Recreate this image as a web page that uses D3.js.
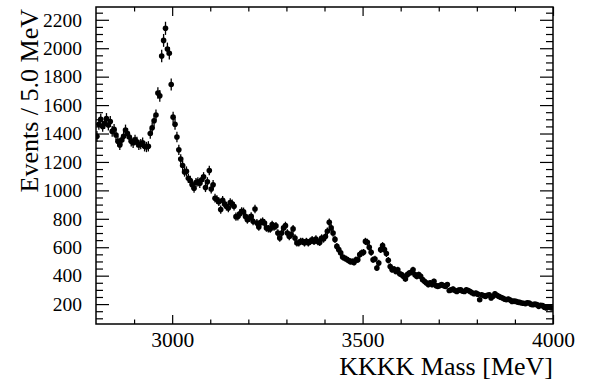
<!DOCTYPE html>
<html lang="en">
<head>
    <meta charset="UTF-8">
    <title>KKKK Mass</title>
    <script src="https://d3js.org/d3.v7.min.js"></script>
    <style>
        body { margin: 0; background: #fff; }
        text { font-family: "Liberation Serif", "Times New Roman", serif; fill: #000; }
    </style>
</head>
<body>
<div id="chart"></div>
<script>

  // Histogram binning (MeV)
  const massStart = 2800, binWidth = 5;

  // Events per 5 MeV bin, 2800 -> 4000 MeV (240 bins)
  const counts = [
    1380, 1465, 1500, 1450, 1470, 1505, 1460, 1485, 1415, 1430,
    1390, 1345, 1320, 1355, 1380, 1425, 1400, 1375, 1345, 1335,
    1355, 1340, 1320, 1325, 1335, 1310, 1305, 1310, 1400, 1440,
    1490, 1530, 1685, 1665, 1945, 2055, 2140, 1995, 1965, 1745,
    1515, 1465, 1375, 1285, 1220, 1175, 1130, 1135, 1085, 1070,
    1040, 1015, 1055, 1060, 1050, 1075, 1095, 1020, 1060, 1140,
    1010, 1040, 945, 935, 920, 865, 930, 905, 888, 876,
    915, 905, 888, 815, 817, 836, 852, 850, 817, 794,
    806, 817, 782, 869, 771, 743, 775, 782, 771, 736,
    730, 729, 759, 743, 750, 700, 665, 700, 736, 752,
    700, 676, 690, 729, 665, 630, 630, 641, 641, 630,
    641, 630, 641, 653, 641, 658, 640, 634, 665, 658,
    676, 712, 775, 736, 700, 655, 606, 583, 560, 531,
    524, 517, 508, 500, 500, 493, 512, 512, 548, 560,
    564, 641, 635, 600, 564, 512, 517, 454, 489, 583,
    611, 583, 555, 508, 465, 442, 447, 430, 442, 414,
    407, 395, 377, 407, 419, 423, 442, 407, 395, 407,
    395, 372, 360, 349, 337, 349, 337, 360, 330, 325,
    330, 337, 330, 325, 337, 296, 300, 306, 295, 289,
    298, 301, 290, 289, 301, 295, 289, 280, 273, 278,
    270, 231, 266, 260, 254, 262, 266, 243, 255, 273,
    262, 254, 248, 243, 235, 231, 236, 228, 219, 222,
    219, 214, 212, 208, 206, 203, 210, 208, 198, 196,
    200, 196, 184, 192, 189, 178, 173, 180, 176, 173
  ];

  // Axis ticks
  const xMajor = [3000, 3500, 4000];
  const xMinor = [2900, 3100, 3200, 3300, 3400, 3600, 3700, 3800, 3900];
  const yMajor = [200, 400, 600, 800, 1000, 1200, 1400, 1600, 1800, 2000, 2200];
  const yMinor = [100, 150, 250, 300, 350, 450, 500, 550, 650, 700, 750, 850, 900, 950,
                  1050, 1100, 1150, 1250, 1300, 1350, 1450, 1500, 1550, 1650, 1700, 1750,
                  1850, 1900, 1950, 2050, 2100, 2150, 2250];

  const data = counts.map((c, i) => ({ m: massStart + binWidth * (i + 0.5), n: c }));

  const serif = '"Liberation Serif", "Times New Roman", serif';

  const margin = { top: 7, right: 38, bottom: 62, left: 96 },
        width = 591 - margin.left - margin.right,
        height = 386 - margin.top - margin.bottom;

  const svg = d3.select("#chart")
    .append("svg")
      .attr("width", 591)
      .attr("height", 386)
    .append("g")
      .attr("transform", `translate(${margin.left},${margin.top})`);

  const x = d3.scaleLinear().domain([2800, 4000]).range([0, width]);
  const y = d3.scaleLinear().domain([60, 2290]).range([height, 0]);

  // ticks (pointing inward, on all four sides)
  const addAxis = (axis, transform) => {
    const g = svg.append("g").attr("transform", transform).call(axis);
    g.select(".domain").remove();
    g.selectAll(".tick line").attr("stroke", "#000").attr("stroke-width", 1.2);
    g.selectAll(".tick text").style("font-family", serif).attr("fill", "#000");
    return g;
  };

  addAxis(d3.axisBottom(x).tickValues(xMajor).tickFormat(d3.format("d")).tickSize(-9).tickPadding(8),
          `translate(0,${height})`)
    .selectAll("text").style("font-size", "21.5px");
  addAxis(d3.axisBottom(x).tickValues(xMinor).tickSize(-4.5).tickFormat(""), `translate(0,${height})`);
  addAxis(d3.axisTop(x).tickValues(xMajor).tickSize(-9).tickFormat(""), "translate(0,0)");
  addAxis(d3.axisTop(x).tickValues(xMinor).tickSize(-4.5).tickFormat(""), "translate(0,0)");

  addAxis(d3.axisLeft(y).tickValues(yMajor).tickFormat(d3.format("d")).tickSize(-13).tickPadding(14),
          "translate(0,0)")
    .selectAll("text").style("font-size", "19.5px");
  addAxis(d3.axisLeft(y).tickValues(yMinor).tickSize(-7).tickFormat(""), "translate(0,0)");
  addAxis(d3.axisRight(y).tickValues(yMajor).tickSize(-13).tickFormat(""), `translate(${width},0)`);
  addAxis(d3.axisRight(y).tickValues(yMinor).tickSize(-7).tickFormat(""), `translate(${width},0)`);

  // clip the points to the frame
  svg.append("clipPath").attr("id", "clip")
    .append("rect").attr("width", width).attr("height", height);

  const pts = svg.append("g").attr("clip-path", "url(#clip)");

  // error bars (sqrt N)
  pts.selectAll("line.err")
    .data(data)
    .join("line")
      .attr("class", "err")
      .attr("x1", d => x(d.m))
      .attr("x2", d => x(d.m))
      .attr("y1", d => y(d.n + Math.sqrt(d.n)))
      .attr("y2", d => y(d.n - Math.sqrt(d.n)))
      .attr("stroke", "#000")
      .attr("stroke-width", 1.3);

  pts.selectAll("circle")
    .data(data)
    .join("circle")
      .attr("cx", d => x(d.m))
      .attr("cy", d => y(d.n))
      .attr("r", 2.8)
      .attr("fill", "#000");

  // frame
  svg.append("rect")
    .attr("width", width)
    .attr("height", height)
    .attr("fill", "none")
    .attr("stroke", "#000")
    .attr("stroke-width", 1.5);

  // axis titles
  svg.append("text")
    .attr("text-anchor", "end")
    .attr("x", width)
    .attr("y", 368)
    .style("font-family", serif)
    .style("font-size", "26px")
    .text("KKKK Mass [MeV]");

  svg.append("text")
    .attr("text-anchor", "end")
    .attr("transform", `translate(${38 - margin.left},2) rotate(-90)`)
    .style("font-family", serif)
    .style("font-size", "26px")
    .text("Events / 5.0 MeV");

</script>
</body>
</html>
